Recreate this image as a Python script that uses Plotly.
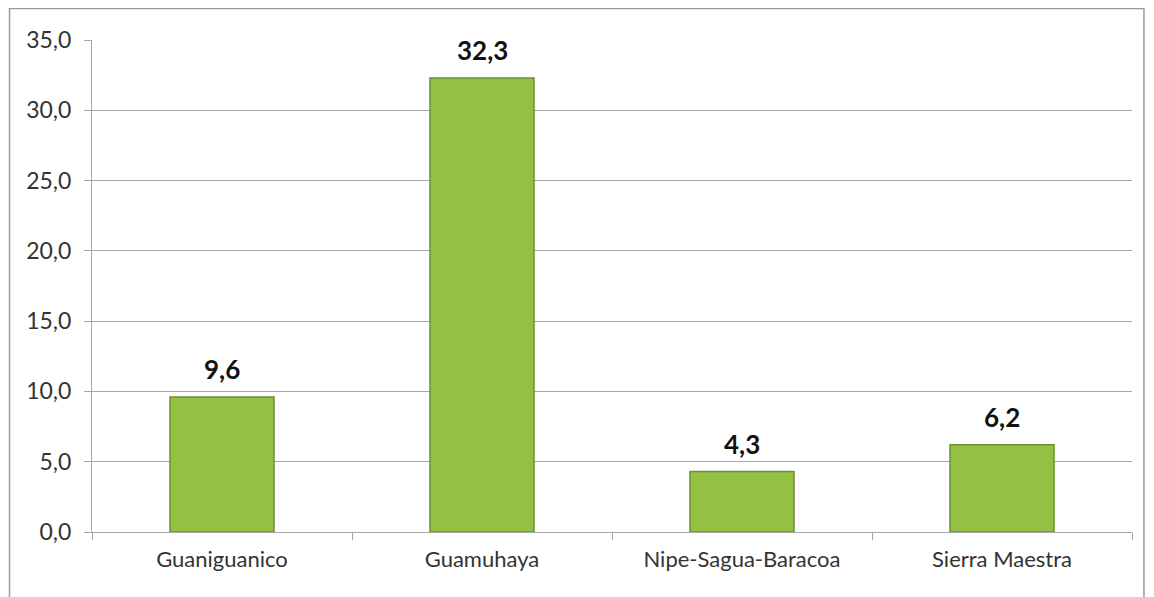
import plotly.graph_objects as go

categories = ["Guaniguanico", "Guamuhaya", "Nipe-Sagua-Baracoa", "Sierra Maestra"]
values = [9.6, 32.3, 4.3, 6.2]
value_labels = ["9,6", "32,3", "4,3", "6,2"]
y_ticks = [0, 5, 10, 15, 20, 25, 30, 35]
y_tick_labels = ["0,0", "5,0", "10,0", "15,0", "20,0", "25,0", "30,0", "35,0"]

fig = go.Figure()
fig.add_trace(go.Bar(
    x=categories, y=values,
    marker=dict(color="#94c043", line=dict(color="#6b922c", width=1.5)),
    width=0.4,
    hoverinfo="skip",
))

annotations = [
    dict(x=c, y=v, text="<b>%s</b>" % t, showarrow=False,
         xref="x", yref="y", yanchor="bottom", yshift=10,
         font=dict(family="Lato", size=26, color="#111111"))
    for c, v, t in zip(categories, values, value_labels)
]

fig.update_layout(
    width=1146, height=589,
    margin=dict(l=84, r=22, t=32, b=65),
    paper_bgcolor="white", plot_bgcolor="white",
    showlegend=False,
    font=dict(family="Lato", color="#333333"),
    annotations=annotations,
    shapes=[dict(type="rect", xref="paper", yref="paper",
                 x0=-0.0793, x1=1.0115, y0=-0.15, y1=1.064,
                 line=dict(color="#9a9a9a", width=1.5))],
)
fig.update_yaxes(
    range=[0, 35], tickvals=y_ticks, ticktext=y_tick_labels,
    showgrid=True, gridcolor="#a6a6a6", gridwidth=1,
    showline=True, linecolor="#a6a6a6", linewidth=1,
    ticks="outside", ticklen=7, tickcolor="#a6a6a6",
    ticklabelstandoff=8,
    tickfont=dict(family="Lato", size=23, color="#333333"),
    zeroline=False,
)
fig.update_xaxes(
    showline=True, linecolor="#a6a6a6", linewidth=1,
    ticks="outside", ticklen=7, tickcolor="#a6a6a6",
    tickson="boundaries",
    ticklabelstandoff=8,
    tickfont=dict(family="Lato", size=22, color="#333333"),
)

fig.write_html("out.html")
